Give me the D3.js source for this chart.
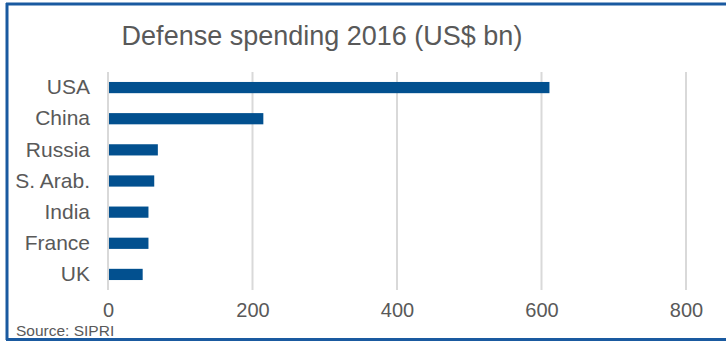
<!DOCTYPE html>
<html>
<head>
<meta charset="utf-8">
<script src="https://cdn.jsdelivr.net/npm/d3@7"></script>
<style>
  html, body { margin: 0; padding: 0; background: #fff; }
  svg { display: block; font-family: "Liberation Sans", Arial, sans-serif; }
</style>
</head>
<body>
<svg id="chart" width="726" height="341"></svg>
<script>
// Defense spending 2016, US$ bn (SIPRI)
const countries = ["USA", "China", "Russia", "S. Arab.", "India", "France", "UK"];
const spending = [611, 215, 69, 64, 56, 56, 48];
const xTicks = [0, 200, 400, 600, 800];

const svg = d3.select("#chart");
const W = 726, H = 341;
const margin = { left: 108, right: 40, top: 72, bottom: 51 };

// frame: top, left and bottom rules
const frameColor = "#1a5aa0";
svg.append("line").attr("x1", 6).attr("x2", W).attr("y1", 4).attr("y2", 4)
  .attr("stroke", frameColor).attr("stroke-width", 3);
svg.append("line").attr("x1", 7).attr("x2", 7).attr("y1", 3).attr("y2", 340)
  .attr("stroke", frameColor).attr("stroke-width", 3);
svg.append("line").attr("x1", 6).attr("x2", W).attr("y1", 339.5).attr("y2", 339.5)
  .attr("stroke", frameColor).attr("stroke-width", 3);

const x = d3.scaleLinear().domain([0, 800]).range([margin.left, 686]);
const y = d3.scaleBand().domain(countries).range([margin.top, H - margin.bottom]).paddingInner(0.64).paddingOuter(0.32);

// vertical gridlines
svg.append("g").selectAll("line").data(xTicks).join("line")
  .attr("x1", d => x(d)).attr("x2", d => x(d))
  .attr("y1", margin.top).attr("y2", H - margin.bottom)
  .attr("stroke", "#d9d9d9").attr("stroke-width", 2);

// bars
svg.append("g").selectAll("rect").data(countries).join("rect")
  .attr("x", x(0) + 1)
  .attr("y", d => y(d))
  .attr("width", (d, i) => x(spending[i]) - x(0) - 1)
  .attr("height", y.bandwidth())
  .attr("fill", "#02508f");

// category labels
const yAxis = svg.append("g").attr("transform", `translate(${margin.left},0)`)
  .call(d3.axisLeft(y).tickSize(0).tickPadding(18));
yAxis.select(".domain").remove();
yAxis.selectAll("text").attr("font-size", 21).attr("fill", "#595959")
  .attr("font-family", "Liberation Sans, Arial, sans-serif");

// value axis labels
const xAxis = svg.append("g").attr("transform", `translate(0,${H - margin.bottom})`)
  .call(d3.axisBottom(x).tickValues(xTicks).tickSize(0).tickPadding(13));
xAxis.select(".domain").remove();
xAxis.selectAll("text").attr("font-size", 20).attr("fill", "#595959")
  .attr("font-family", "Liberation Sans, Arial, sans-serif");

// title
svg.append("text").attr("x", 322).attr("y", 45).attr("text-anchor", "middle")
  .attr("font-size", 27).attr("fill", "#595959")
  .text("Defense spending 2016 (US$ bn)");

// source note
svg.append("text").attr("x", 16).attr("y", 336)
  .attr("font-size", 15.5).attr("fill", "#595959")
  .text("Source: SIPRI");
</script>
</body>
</html>
